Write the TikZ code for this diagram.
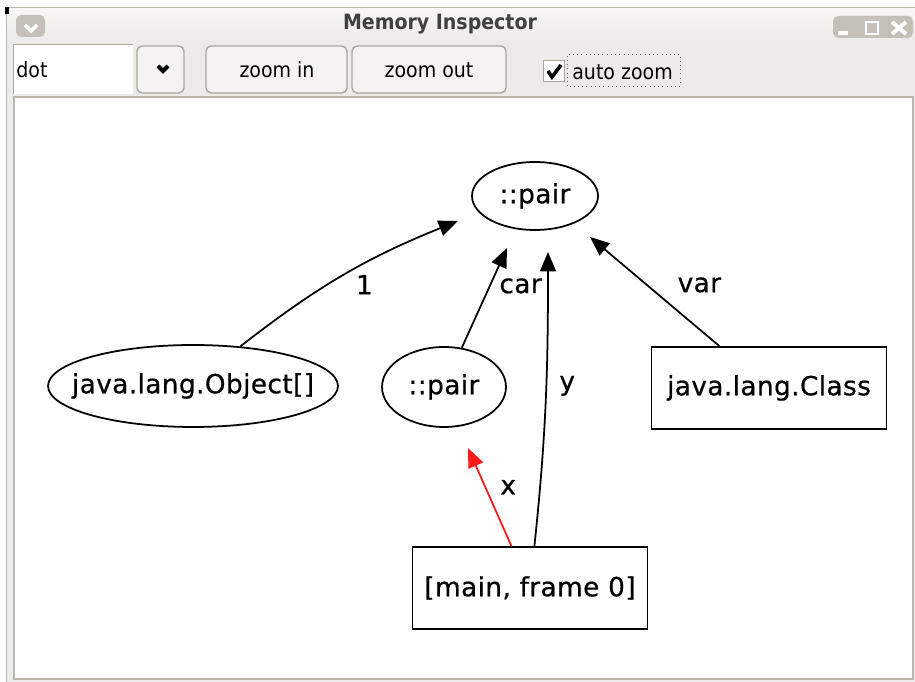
\documentclass[tikz,border=0pt]{standalone}
\usepackage{fontspec}
\setmainfont{DejaVu Sans}
\newfontfamily\uifont[FakeStretch=0.9]{DejaVu Sans}
\newfontfamily\graphfont[FakeBold=0.6, LetterSpace=1.5]{DejaVu Sans}
\usetikzlibrary{shapes.geometric, arrows.meta}
\definecolor{wingray}{HTML}{EDEBE8}
\definecolor{btnedge}{HTML}{ABA69D}
\definecolor{btnfill}{HTML}{F4F3F1}
\definecolor{titlebtn}{HTML}{C4BFB7}
\definecolor{frameline}{HTML}{BCB7AE}
\definecolor{edgered}{HTML}{FF1A1A}

\begin{document}
\begin{tikzpicture}[x=0.02cm, y=0.02cm,
     obj/.style={ellipse, draw, line width=1pt, inner sep=0pt, font=\graphfont\fontsize{15}{18}\selectfont},
     box/.style={rectangle, draw, line width=1pt, minimum width=4.7cm, minimum height=1.64cm, font=\graphfont\fontsize{15}{18}\selectfont},
     ref/.style={line width=1pt, -{Triangle[length=11pt, width=9pt]}},
     lbl/.style={inner sep=1pt, text=black, font=\graphfont\fontsize{15}{18}\selectfont},
     btn/.style={draw=btnedge, fill=btnfill, rounded corners=3pt, line width=0.8pt},
     ui/.style={inner sep=0pt, font=\uifont\fontsize{12}{14}\selectfont}]
     \useasboundingbox (0,0) rectangle (915,682);
     \fill[white] (0,0) rectangle (915,682);
     \fill[wingray] (6,0) rectangle (915,675);
     \shade[top color=white!60!wingray, bottom color=wingray] (7,642) rectangle (915,674);
     \draw[frameline] (6,0) -- (6,675) -- (915,675);
     \fill (5,668) rectangle (9,675);

     \fill[titlebtn, rounded corners=3pt] (16,645) rectangle (45,667);
     \draw[white, line width=2.2pt] (25,657) -- (31,651) -- (37,657);
     \node[ui, font=\uifont\bfseries\fontsize{12}{14}\selectfont, text=black!75] (title) at (440,658) {Memory Inspector};
     \fill[titlebtn, rounded corners=3pt] (833,644) rectangle (913,666);
     \draw[white, line width=2pt] (838,649) -- (848,649);
     \draw[white, line width=1.5pt] (866,648) rectangle (878,660);
     \draw[white, line width=2.2pt] (892,648) -- (906,660) (892,660) -- (906,648);

     \fill[white] (13,588) rectangle (133,638);
     \draw[btnedge] (13,588) -- (13,638) -- (133,638);
     \node[ui, anchor=west] (mode) at (16,612) {dot};
     \draw[btn] (137,589) rectangle (184,636);
     \draw[line width=2.3pt] (158,616) -- (163,611) -- (168,616);
     \draw[btn] (206,589) rectangle (347,636);
     \node[ui] (zin) at (277,612) {zoom in};
     \draw[btn] (352,589) rectangle (506,636);
     \node[ui] (zout) at (429,612) {zoom out};
     \draw[btnedge, fill=white] (543,601) rectangle (564,622);
     \draw[line width=2pt] (548,611) -- (552,605) -- (561,617);
     \node[ui, anchor=west] (auto) at (572,610) {auto zoom};
     \draw[dotted, black!60] (567,596) rectangle (680,628);

     \fill[white] (14,3) rectangle (913,585);
     \draw[frameline, line width=1.2pt] (14,3) rectangle (913,585);

     \node[obj, minimum width=2.52cm, minimum height=1.36cm] (top) at (535,486) {::pair};
     \node[obj, minimum width=5.8cm, minimum height=1.64cm, inner xsep=-14pt] (arr) at (193,296) {java.lang.Object[]};
     \node[obj, minimum width=2.48cm, minimum height=1.6cm] (sub) at (444,295) {::pair};
     \node[box] (cls) at (769,294) {java.lang.Class};
     \node[box] (frame) at (530,94) {[main, frame 0]};
     \coordinate (t1) at (458,461);
     \coordinate (tcar) at (507,434);
     \coordinate (ty) at (548,430);
     \coordinate (tvar) at (590,445);
     \coordinate (tx) at (468,234);
     \draw[ref] (arr) to [bend left=8] node[lbl, below=5pt, pos=0.6] {1} (t1);
     \draw[ref] (sub) to node[lbl, right=4pt, pos=0.62] {car} (tcar);
     \draw[ref] (frame) to [out=84, in=-90] node[lbl, right=6pt, pos=0.55] {y} (ty);
     \draw[ref, edgered] (frame) to node[lbl, right=7pt, pos=0.6] {x} (tx);
     \draw[ref] (cls) to node[lbl, right=16pt, pos=0.56] {var} (tvar);
  \end{tikzpicture}
\end{document}
